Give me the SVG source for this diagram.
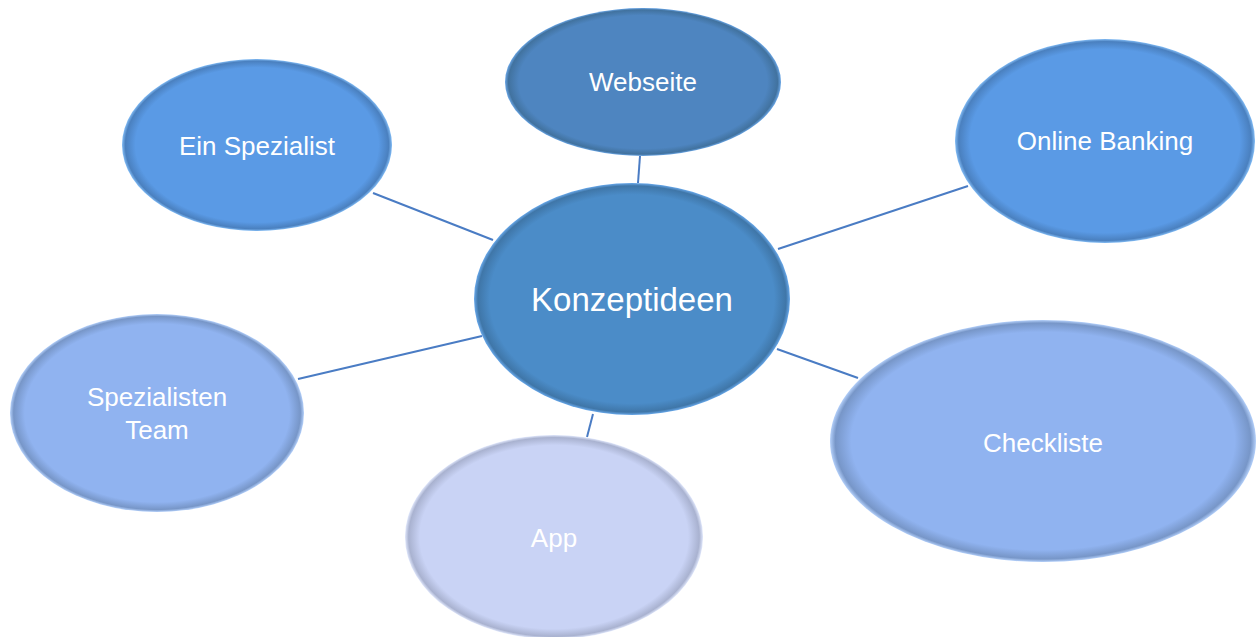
<svg xmlns="http://www.w3.org/2000/svg" width="1257" height="637" viewBox="0 0 1257 637">
  <defs>
    <style>
      .lbl { font-family: "Liberation Sans", Arial, sans-serif; font-size: 26px; fill: #ffffff; text-anchor: middle; }
      .big { font-size: 33px; }
      .edge { stroke: #4a7cc4; stroke-width: 2; fill: none; }
    </style>
    <!-- flat fill with a soft darker inner rim and a pale outer edge -->
    <radialGradient id="gDark" cx="50%" cy="50%" r="50%">
      <stop offset="0" stop-color="#4e85c0"/>
      <stop offset="0.9" stop-color="#4e85c0"/>
      <stop offset="0.975" stop-color="#41729f"/>
      <stop offset="1" stop-color="#6aa6e6"/>
    </radialGradient>
    <radialGradient id="gCore" cx="50%" cy="50%" r="50%">
      <stop offset="0" stop-color="#4b8cc8"/>
      <stop offset="0.9" stop-color="#4b8cc8"/>
      <stop offset="0.975" stop-color="#3f76a8"/>
      <stop offset="1" stop-color="#68a8ea"/>
    </radialGradient>
    <radialGradient id="gMid" cx="50%" cy="50%" r="50%">
      <stop offset="0" stop-color="#5a9ae5"/>
      <stop offset="0.9" stop-color="#5a9ae5"/>
      <stop offset="0.975" stop-color="#4a80bf"/>
      <stop offset="1" stop-color="#82bcf5"/>
    </radialGradient>
    <radialGradient id="gLight" cx="50%" cy="50%" r="50%">
      <stop offset="0" stop-color="#90b3f0"/>
      <stop offset="0.9" stop-color="#90b3f0"/>
      <stop offset="0.975" stop-color="#7796c8"/>
      <stop offset="1" stop-color="#b4d0fa"/>
    </radialGradient>
    <radialGradient id="gPale" cx="50%" cy="50%" r="50%">
      <stop offset="0" stop-color="#c9d3f5"/>
      <stop offset="0.9" stop-color="#c9d3f5"/>
      <stop offset="0.975" stop-color="#a9b2d0"/>
      <stop offset="1" stop-color="#e0e7fb"/>
    </radialGradient>
  </defs>

  <rect width="1257" height="637" fill="#ffffff"/>

  <!-- connectors from the central idea to each branch -->
  <g id="connectors">
    <line class="edge" x1="640" y1="156" x2="638" y2="183"/>
    <line class="edge" x1="373" y1="193" x2="493" y2="240"/>
    <line class="edge" x1="968" y1="186" x2="778" y2="249"/>
    <line class="edge" x1="777" y1="349" x2="858" y2="378"/>
    <line class="edge" x1="298" y1="379" x2="482" y2="336"/>
    <line class="edge" x1="593" y1="414" x2="587" y2="437"/>
  </g>

  <g id="webseite">
    <ellipse cx="643" cy="82" rx="138" ry="74" fill="url(#gDark)"/>
    <text class="lbl" x="643" y="91">Webseite</text>
  </g>

  <g id="ein-spezialist">
    <ellipse cx="257" cy="145" rx="135" ry="86" fill="url(#gMid)"/>
    <text class="lbl" x="257" y="155">Ein Spezialist</text>
  </g>

  <g id="online-banking">
    <ellipse cx="1105" cy="141" rx="150" ry="102" fill="url(#gMid)"/>
    <text class="lbl" x="1105" y="150">Online Banking</text>
  </g>

  <g id="checkliste">
    <ellipse cx="1043" cy="441" rx="213" ry="121" fill="url(#gLight)"/>
    <text class="lbl" x="1043" y="452">Checkliste</text>
  </g>

  <g id="spezialisten-team">
    <ellipse cx="157" cy="413" rx="147" ry="99" fill="url(#gLight)"/>
    <text class="lbl" x="157" y="406">Spezialisten</text>
    <text class="lbl" x="157" y="439">Team</text>
  </g>

  <g id="app">
    <ellipse cx="554" cy="537" rx="149" ry="102" fill="url(#gPale)"/>
    <text class="lbl" x="554" y="547">App</text>
  </g>

  <g id="konzeptideen">
    <ellipse cx="632" cy="299" rx="158" ry="116" fill="url(#gCore)"/>
    <text class="lbl big" x="632" y="311">Konzeptideen</text>
  </g>
</svg>
